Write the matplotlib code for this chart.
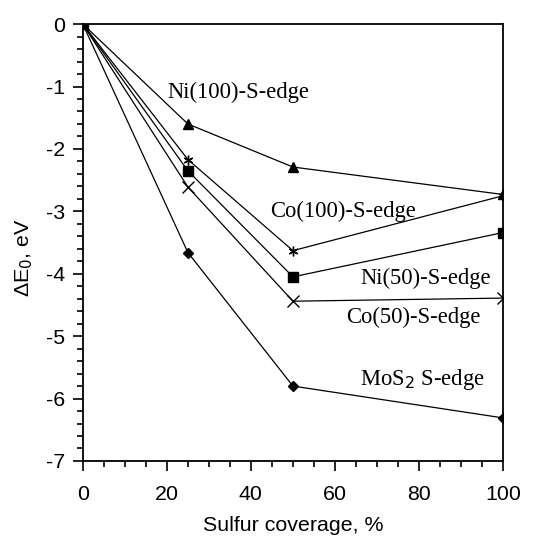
import matplotlib.pyplot as plt
from matplotlib.ticker import MultipleLocator

plt.rcParams['axes.unicode_minus'] = False

coverage = [0, 25, 50, 100]
ni100 = [0, -1.60, -2.29, -2.73]
co100 = [0, -2.17, -3.63, -2.75]
ni50 = [0, -2.35, -4.05, -3.34]
co50 = [0, -2.61, -4.44, -4.39]
mos2 = [0, -3.66, -5.80, -6.31]

labels = ['Ni(100)-S-edge', 'Co(100)-S-edge', 'Ni(50)-S-edge', 'Co(50)-S-edge',
          'MoS$_2$ S-edge']

fig = plt.figure(figsize=(5.45, 5.36), dpi=100)
ax = fig.add_axes([0.152, 0.140, 0.771, 0.815])

lw = 0.9
ax.plot(coverage, ni100, color='black', lw=lw, marker='^', ms=7)
ax.plot(coverage, co100, color='black', lw=lw, marker=(6, 2, 0), ms=7, mew=1.0)
ax.plot(coverage, ni50, color='black', lw=lw, marker='s', ms=7)
ax.plot(coverage, co50, color='black', lw=lw, marker='x', ms=8, mew=1.0)
ax.plot(coverage, mos2, color='black', lw=lw, marker='D', ms=5.5)

serif = ['Liberation Serif', 'DejaVu Serif']
sans = ['Liberation Sans', 'DejaVu Sans']
fs = 16.3
ax.text(36.9, -1.1, labels[0], fontfamily=serif, fontsize=fs, ha='center', va='center')
ax.text(62, -3.0, labels[1], fontfamily=serif, fontsize=fs, ha='center', va='center')
ax.text(81.7, -4.07, labels[2], fontfamily=serif, fontsize=fs, ha='center', va='center')
ax.text(78.6, -4.70, labels[3], fontfamily=serif, fontsize=fs, ha='center', va='center')
ax.text(80.7, -5.69, labels[4], fontfamily=serif, fontsize=fs, ha='center', va='center')

ax.set_xlim(0, 100)
ax.set_ylim(-7, 0)
ax.xaxis.set_major_locator(MultipleLocator(20))
ax.xaxis.set_minor_locator(MultipleLocator(5))
ax.yaxis.set_major_locator(MultipleLocator(1))
ax.yaxis.set_minor_locator(MultipleLocator(0.2))
ax.tick_params(which='both', direction='out', top=False, right=False, width=1.2,
               labelsize=15.4)
ax.tick_params(which='major', length=7)
ax.tick_params(which='minor', length=4)
ax.tick_params(axis='x', pad=10)
ax.tick_params(axis='y', pad=6)
for sp in ax.spines.values():
    sp.set_linewidth(1.3)
for lab in ax.get_xticklabels() + ax.get_yticklabels():
    lab.set_fontfamily(sans)

ax.set_xlabel('Sulfur coverage, %', fontfamily=sans, fontsize=15.4)
ax.set_ylabel('ΔE$_0$, eV', fontfamily=sans, fontsize=15.4)
ax.xaxis.set_label_coords(0.5, -0.125)
ax.yaxis.set_label_coords(-0.114, 0.465)

fig.savefig('out.png', dpi=100)
